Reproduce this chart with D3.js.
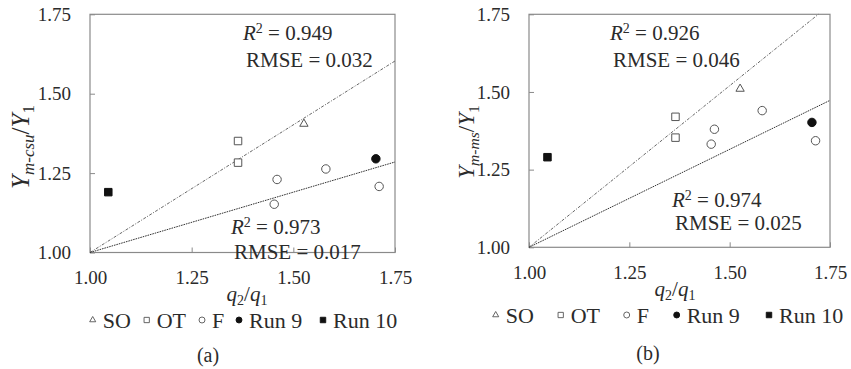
<!DOCTYPE html>
<html>
<head>
<meta charset="utf-8">
<script src="https://cdn.jsdelivr.net/npm/d3@7"></script>
<style>
  body { margin: 0; background: #fff; }
  svg { display: block; }
</style>
</head>
<body>
<svg id="chart" width="851" height="369"></svg>
<script>
var xTicks = [1.00, 1.25, 1.50, 1.75];
var yTicks = [1.00, 1.25, 1.50, 1.75];
var legendLabels = ["SO", "OT", "F", "Run 9", "Run 10"];

// panel (a)  [q2/q1, Y_m-csu/Y1]
var aSO = [[1.526, 1.405]];
var aOT = [[1.364, 1.351], [1.364, 1.283]];
var aF = [[1.460, 1.230], [1.453, 1.152], [1.580, 1.263], [1.711, 1.208]];
var aRun9 = [[1.703, 1.295]];
var aRun10 = [[1.045, 1.190]];
var aFitUpper = [[1.00, 1.00], [1.75, 1.603]];
var aFitLower = [[1.00, 1.00], [1.75, 1.285]];
var aStats = [["0.949", "0.032"], ["0.973", "0.017"]];

// panel (b)  [q2/q1, Y_m-ms/Y1]
var bSO = [[1.526, 1.510]];
var bOT = [[1.365, 1.420], [1.365, 1.353]];
var bF = [[1.454, 1.332], [1.462, 1.380], [1.581, 1.440], [1.714, 1.343]];
var bRun9 = [[1.705, 1.402]];
var bRun10 = [[1.046, 1.290]];
var bFitUpper = [[1.00, 1.00], [1.721, 1.75]];
var bFitLower = [[1.00, 1.00], [1.75, 1.473]];
var bStats = [["0.926", "0.046"], ["0.974", "0.025"]];

var svg = d3.select("#chart");
var axisColor = "#8a8a8a", textColor = "#2b2b2b";
var serif = "'Liberation Serif'";

function drawPanel(o) {
  var g = svg.append("g");
  var x = d3.scaleLinear().domain([1, 1.75]).range([o.left, o.right]);
  var y = d3.scaleLinear().domain([1, 1.75]).range([o.bottom, o.top]);

  // frame
  g.append("rect")
    .attr("x", o.left).attr("y", o.top)
    .attr("width", o.right - o.left).attr("height", o.bottom - o.top)
    .attr("fill", "none").attr("stroke", axisColor).attr("stroke-width", 1.2);

  var xa = g.append("g").attr("transform", "translate(0," + o.bottom + ")")
    .call(d3.axisBottom(x).tickValues(xTicks).tickFormat(d3.format(".2f"))
      .tickSizeInner(-5).tickSizeOuter(0).tickPadding(18));
  var ya = g.append("g").attr("transform", "translate(" + o.left + ",0)")
    .call(d3.axisLeft(y).tickValues(yTicks).tickFormat(d3.format(".2f"))
      .tickSizeInner(-5).tickSizeOuter(0).tickPadding(19));
  [xa, ya].forEach(function(a) {
    a.attr("font-family", null);
    a.select(".domain").remove();
    a.selectAll("line").attr("stroke", axisColor);
    a.selectAll("text").attr("fill", textColor).style("font-size", "19px");
  });

  // fit lines
  var line = d3.line().x(function(d) { return x(d[0]); }).y(function(d) { return y(d[1]); });
  g.append("path").datum(o.fitUpper).attr("d", line)
    .attr("fill", "none").attr("stroke", "#666").attr("stroke-width", 1)
    .attr("stroke-dasharray", "3,1.5,1,1.5");
  g.append("path").datum(o.fitLower).attr("d", line)
    .attr("fill", "none").attr("stroke", "#333").attr("stroke-width", 1)
    .attr("stroke-dasharray", "1.6,0.9");

  // points
  var sets = [
    {d: o.so, type: d3.symbolTriangle, size: 30, fill: "#fff"},
    {d: o.ot, type: d3.symbolSquare, size: 56, fill: "#fff"},
    {d: o.f, type: d3.symbolCircle, size: 56, fill: "#fff"},
    {d: o.run9, type: d3.symbolCircle, size: 56, fill: "#111"},
    {d: o.run10, type: d3.symbolSquare, size: 56, fill: "#111"}
  ];
  sets.forEach(function(s) {
    g.selectAll(null).data(s.d).enter().append("path")
      .attr("d", d3.symbol().type(s.type).size(s.size))
      .attr("transform", function(d) { return "translate(" + x(d[0]) + "," + y(d[1]) + ")"; })
      .attr("fill", s.fill).attr("stroke", s.fill === "#fff" ? "#555" : "#111")
      .attr("stroke-width", 1);
  });

  // stats text
  o.statPos.forEach(function(p, i) {
    var t = g.append("text").attr("x", p[0]).attr("y", p[1])
      .attr("fill", textColor).style("font-size", "21px");
    t.append("tspan").style("font-style", "italic").text("R");
    t.append("tspan").attr("dy", -7).style("font-size", "14px").text("2");
    t.append("tspan").attr("dy", 7).text(" = " + o.stats[i][0]);
    g.append("text").attr("x", p[0] + 3).attr("y", p[1] + p[2])
      .attr("fill", textColor).style("font-size", "21px")
      .text("RMSE = " + o.stats[i][1]);
  });

  // y title
  var yt = g.append("text")
    .attr("transform", "translate(" + o.yTitleX + "," + o.yTitleY + ") rotate(-90)")
    .attr("text-anchor", "middle").attr("fill", textColor)
    .style("font-size", o.yTitleSize + "px");
  yt.append("tspan").style("font-style", "italic").text("Y");
  yt.append("tspan").attr("dy", 5).style("font-style", "italic")
    .style("font-size", (o.yTitleSize * 0.68) + "px").text(o.ySub);
  yt.append("tspan").attr("dy", -5).text("/");
  yt.append("tspan").style("font-style", "italic").text("Y");
  yt.append("tspan").attr("dy", 5).style("font-size", (o.yTitleSize * 0.68) + "px").text("1");

  // x title
  var xt = g.append("text").attr("x", o.xTitleX).attr("y", o.xTitleY)
    .attr("text-anchor", "middle").attr("fill", textColor).style("font-size", "21px");
  xt.append("tspan").style("font-style", "italic").text("q");
  xt.append("tspan").attr("dy", 4).style("font-size", "14px").text("2");
  xt.append("tspan").attr("dy", -4).text("/");
  xt.append("tspan").style("font-style", "italic").text("q");
  xt.append("tspan").attr("dy", 4).style("font-size", "14px").text("1");

  // legend
  var legSyms = [
    {type: d3.symbolTriangle, size: 16, fill: "#fff"},
    {type: d3.symbolSquare, size: 28, fill: "#fff"},
    {type: d3.symbolCircle, size: 28, fill: "#fff"},
    {type: d3.symbolCircle, size: 28, fill: "#111"},
    {type: d3.symbolSquare, size: 30, fill: "#111"}
  ];
  legendLabels.forEach(function(lab, i) {
    var lx = o.legendX[i];
    g.append("path").attr("d", d3.symbol().type(legSyms[i].type).size(legSyms[i].size))
      .attr("transform", "translate(" + lx + "," + o.legendY + ")")
      .attr("fill", legSyms[i].fill)
      .attr("stroke", legSyms[i].fill === "#fff" ? "#555" : "#111").attr("stroke-width", 0.9);
    g.append("text").attr("x", lx + 10).attr("y", o.legendY + 7.5)
      .attr("fill", textColor).style("font-size", "22px").text(lab);
  });

  g.append("text").attr("x", o.capX).attr("y", o.capY + 7)
    .attr("text-anchor", "middle").attr("fill", textColor).style("font-size", "20px")
    .text(o.caption);
}

drawPanel({
  left: 90, right: 395, top: 14.3, bottom: 252.5,
  so: aSO, ot: aOT, f: aF, run9: aRun9, run10: aRun10,
  fitUpper: aFitUpper, fitLower: aFitLower, stats: aStats,
  statPos: [[243, 40, 27], [231, 234, 25]],
  ySub: "m-csu", yTitleX: 29, yTitleY: 147, yTitleSize: 25,
  xTitleX: 247, xTitleY: 301,
  legendX: [92.7, 146.7, 202, 239, 323], legendY: 320,
  caption: "(a)", capX: 208, capY: 355
});

drawPanel({
  left: 529, right: 830, top: 14.3, bottom: 247.3,
  so: bSO, ot: bOT, f: bF, run9: bRun9, run10: bRun10,
  fitUpper: bFitUpper, fitLower: bFitLower, stats: bStats,
  statPos: [[610, 40, 27], [672, 207, 23]],
  ySub: "m-ms", yTitleX: 474, yTitleY: 142, yTitleSize: 23,
  xTitleX: 675, xTitleY: 296,
  legendX: [495.7, 560.7, 626.7, 676.7, 769], legendY: 315,
  caption: "(b)", capX: 648, capY: 353
});

// serif face on every label
svg.selectAll("text").style("font-family", serif);
</script>
</body>
</html>
